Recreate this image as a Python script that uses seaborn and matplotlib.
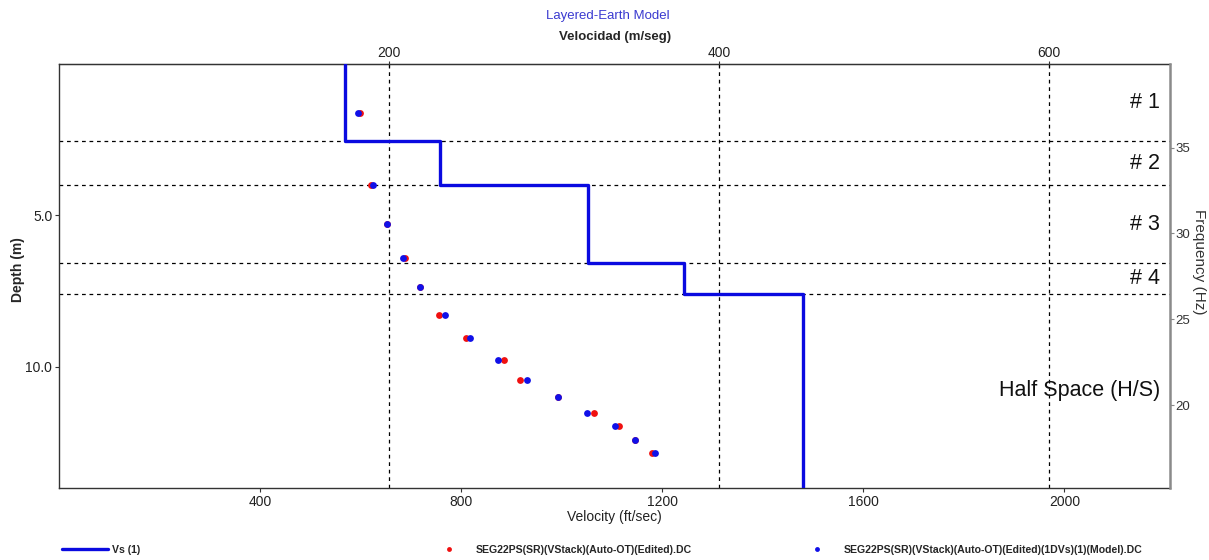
import numpy as np
import pandas as pd
import matplotlib
matplotlib.use("Agg")
import matplotlib.pyplot as plt
from matplotlib.lines import Line2D
import seaborn as sns

# ---------------- data ----------------
layer_names = ["# 1", "# 2", "# 3", "# 4", "Half Space (H/S)"]
layer_vs_fts = [568, 757, 1051, 1242, 1479]          # ft/sec
layer_bottoms_m = [2.54, 4.01, 6.57, 7.58]          # m
max_depth_m = 14.0

point_depth_m = [1.63, 3.99, 5.30, 6.41, 7.37, 8.29, 9.06, 9.77, 10.42,
                 10.98, 11.51, 11.96, 12.40, 12.85]
edited_vel_fts = [598, 621, 653, 688, 718, 755, 809, 885, 916,
                  993, 1064, 1113, 1146, 1180]
model_vel_fts = [594, 624, 653, 684, 718, 767, 817, 872, 931,
                 993, 1050, 1105, 1146, 1185]

top_ticks_ms = [200, 400, 600]
bottom_ticks_fts = [400, 800, 1200, 1600, 2000]
depth_ticks = [5.0, 10.0]
freq_ticks = [20, 25, 30, 35]
freq_lim = (15.17, 39.87)
vel_lim_fts = (0, 2210)
FT2M = 0.3048

label_vs = "Vs (1)"
label_edited = "SEG22PS(SR)(VStack)(Auto-OT)(Edited).DC"
label_model = "SEG22PS(SR)(VStack)(Auto-OT)(Edited)(1DVs)(1)(Model).DC"

# ---------------- style ----------------
sns.set_style("white")
plt.rcParams["font.family"] = ["Liberation Sans", "DejaVu Sans"]

BLUE_LINE = "#0a0ae0"
RED = "#f01010"
BLUE = "#1010e8"

fig = plt.figure(figsize=(12.09, 5.60), dpi=100)
ax = fig.add_axes([59.3 / 1209, 1 - 488 / 560, (1170 - 59.3) / 1209, (488 - 63.9) / 560])

# step profile built from layer arrays
tops = [0.0] + layer_bottoms_m
bots = layer_bottoms_m + [max_depth_m]
step_x, step_y = [], []
for v, t, b in zip(layer_vs_fts, tops, bots):
    step_x += [v, v]
    step_y += [t, b]
prof = pd.DataFrame({"vel": step_x, "depth": step_y})

# grid lines
for t in top_ticks_ms:
    ax.axvline(t / FT2M, color="black", lw=0.9, ls=(0, (3, 3)), zorder=1)
for b in layer_bottoms_m:
    ax.axhline(b, color="black", lw=0.9, ls=(0, (3, 3)), zorder=1)

sns.lineplot(data=prof, x="vel", y="depth", sort=False, estimator=None,
             color=BLUE_LINE, lw=2.4, ax=ax, zorder=3)
sns.scatterplot(x=edited_vel_fts, y=point_depth_m, color=RED, s=24,
                linewidth=0, ax=ax, zorder=4)
sns.scatterplot(x=model_vel_fts, y=point_depth_m, color=BLUE, s=24,
                linewidth=0, ax=ax, zorder=5)

ax.set_xlim(*vel_lim_fts)
ax.set_ylim(max_depth_m, 0)
ax.set_xticks(bottom_ticks_fts)
ax.set_xticklabels([str(t) for t in bottom_ticks_fts])
ax.set_yticks(depth_ticks)
ax.set_yticklabels([f"{t:.1f}" for t in depth_ticks])
ax.tick_params(axis="both", which="major", labelsize=10, length=3, width=0.8,
               direction="out", colors="#333333", labelcolor="#222222", pad=2)
ax.tick_params(axis="x", bottom=True)
ax.tick_params(axis="y", left=True)
ax.set_xlabel("Velocity (ft/sec)", fontsize=10, labelpad=1, color="#222222")
ax.set_ylabel("Depth (m)", fontsize=10, fontweight="bold")
ax.yaxis.label.set(va="center", ha="center", rotation_mode="anchor")
ax.yaxis.set_label_coords((18 - 59.3) / 1110.7, 1 - (270 - 63.9) / 424.1)
for s in ["left", "bottom", "top"]:
    ax.spines[s].set_color("#333333")
    ax.spines[s].set_linewidth(1.0)
ax.spines["right"].set_visible(False)

# layer labels at mid-depths
for name, t, b in zip(layer_names, tops, bots):
    ax.text(0.991, (t + b) / 2, name, transform=ax.get_yaxis_transform(),
            ha="right", va="center", fontsize=15.5, color="#111111")

# top secondary axis in m/s
sec = ax.secondary_xaxis("top", functions=(lambda x: x * FT2M, lambda x: x / FT2M))
sec.set_xticks(top_ticks_ms)
sec.set_xticklabels([str(t) for t in top_ticks_ms])
sec.tick_params(labelsize=10, length=4, direction="inout", colors="#333333",
                labelcolor="#222222", pad=1)
sec.set_xlabel("Velocidad (m/seg)", fontsize=9.5, fontweight="bold", labelpad=4)

# right frequency axis
ax2 = ax.twinx()
ax2.set_ylim(*freq_lim)
ax2.set_yticks(freq_ticks)
ax2.set_yticklabels([str(t) for t in freq_ticks])
ax2.tick_params(axis="y", right=True, labelsize=9.5, length=3, direction="out",
                colors="#888888", labelcolor="#333333", pad=1)
for s in ["left", "bottom", "top"]:
    ax2.spines[s].set_visible(False)
ax2.spines["right"].set_color("#8a8a8a")
ax2.spines["right"].set_linewidth(1.8)
ax2.set_ylabel("Frequency (Hz)", fontsize=11, rotation=270, color="#333333")
ax2.yaxis.label.set(va="center", ha="center", rotation_mode="anchor")
ax2.yaxis.set_label_coords((1199 - 59.3) / 1110.7, 1 - (262 - 63.9) / 424.1)
ax2.grid(False)

fig.text(608 / 1209, 1 - 16 / 560, "Layered-Earth Model", ha="center", va="center",
         fontsize=9.5, color="#3a3ad0")

# legends
common = dict(frameon=False, handlelength=4.4, handletextpad=0.3,
              borderpad=0, borderaxespad=0, loc="center left",
              prop={"weight": "bold", "size": 7.6})
h1 = [Line2D([], [], color=BLUE_LINE, lw=2.4)]
h2 = [Line2D([], [], color=RED, marker="o", ms=3.5, lw=0, mew=0)]
h3 = [Line2D([], [], color=BLUE, marker="o", ms=3.5, lw=0, mew=0)]
fig.legend(h1, [label_vs], bbox_to_anchor=(62 / 1209, 1 - 550 / 560), **common)
fig.legend(h2, [label_edited], bbox_to_anchor=(426 / 1209, 1 - 550 / 560), **common)
fig.legend(h3, [label_model], bbox_to_anchor=(794 / 1209, 1 - 550 / 560), **common)

fig.savefig("out.png", dpi=100)
